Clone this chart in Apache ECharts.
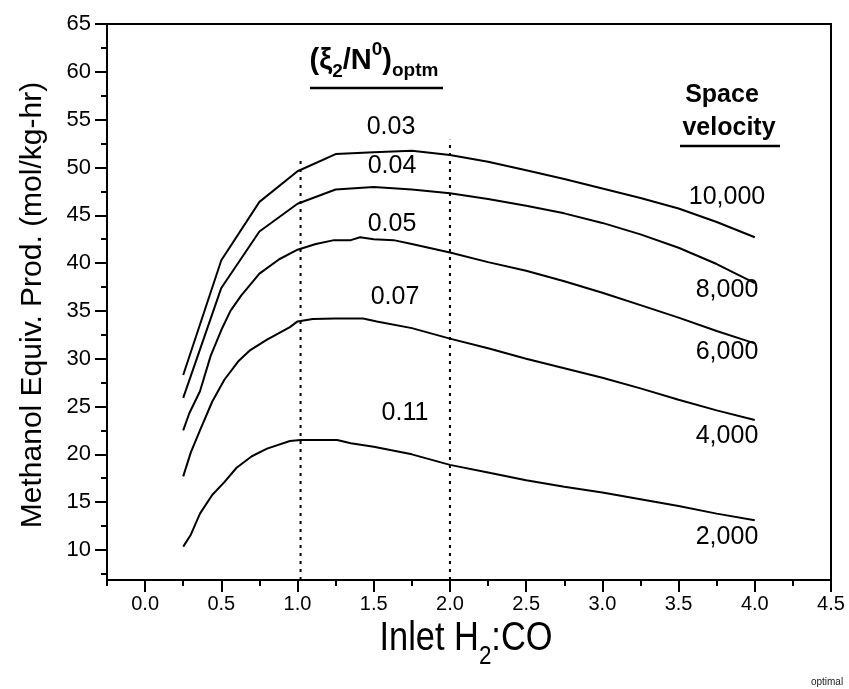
<!DOCTYPE html>
<html>
<head>
<meta charset="utf-8">
<script src="https://cdn.jsdelivr.net/npm/echarts@6/dist/echarts.min.js"></script>
<style>
  html, body { margin: 0; padding: 0; background: #fff; }
  #chart { width: 849px; height: 689px; }
</style>
</head>
<body>
<div id="chart"></div>
<script>
// Methanol equivalent productivity vs inlet H2:CO for five space velocities
const velocityLabels = ['10,000', '8,000', '6,000', '4,000', '2,000'];
const ratioLabels = ['0.03', '0.04', '0.05', '0.07', '0.11'];

const sv10000 = [[0.25, 28.3], [0.5, 40.3], [0.75, 46.4], [1.0, 49.6], [1.25, 51.4], [1.5, 51.6],
  [1.75, 51.75], [2.0, 51.3], [2.25, 50.6], [2.5, 49.7], [2.75, 48.8], [3.0, 47.8], [3.25, 46.8],
  [3.5, 45.7], [3.75, 44.3], [4.0, 42.7]];
const sv8000 = [[0.25, 25.9], [0.5, 37.4], [0.75, 43.3], [1.0, 46.2], [1.25, 47.7], [1.5, 47.95],
  [1.75, 47.7], [2.0, 47.3], [2.25, 46.7], [2.5, 46.0], [2.75, 45.2], [3.0, 44.2], [3.25, 43.0],
  [3.5, 41.6], [3.75, 39.9], [4.0, 37.9]];
const sv6000 = [[0.25, 22.5], [0.29, 24.3], [0.36, 26.6], [0.43, 30.3], [0.5, 33.0], [0.56, 35.0],
  [0.63, 36.6], [0.75, 38.9], [0.88, 40.4], [1.0, 41.4], [1.12, 42.0], [1.24, 42.4], [1.35, 42.4],
  [1.41, 42.7], [1.5, 42.5], [1.63, 42.4], [1.75, 42.0], [2.0, 41.1], [2.25, 40.1], [2.5, 39.2],
  [2.75, 38.1], [3.0, 36.9], [3.25, 35.6], [3.5, 34.3], [3.75, 32.9], [4.0, 31.6]];
const sv4000 = [[0.25, 17.7], [0.3, 20.2], [0.36, 22.5], [0.44, 25.5], [0.52, 27.8], [0.61, 29.7],
  [0.69, 30.9], [0.8, 32.0], [0.95, 33.3], [1.0, 33.9], [1.1, 34.15], [1.25, 34.2], [1.43, 34.2],
  [1.52, 33.9], [1.75, 33.2], [2.0, 32.1], [2.25, 31.1], [2.5, 30.0], [2.75, 29.0], [3.0, 28.0],
  [3.25, 26.9], [3.5, 25.7], [3.75, 24.6], [4.0, 23.6]];
const sv2000 = [[0.25, 10.35], [0.3, 11.6], [0.36, 13.8], [0.44, 15.75], [0.52, 17.1], [0.6, 18.6],
  [0.7, 19.8], [0.8, 20.6], [0.95, 21.4], [1.02, 21.5], [1.26, 21.5], [1.35, 21.15], [1.5, 20.8],
  [1.75, 20.0], [2.0, 18.9], [2.25, 18.1], [2.5, 17.3], [2.75, 16.6], [3.0, 16.0], [3.25, 15.3],
  [3.5, 14.6], [3.75, 13.8], [4.0, 13.1]];

// Optimum band limits (dotted verticals) and where each one stops
const optimumBounds = [1.02, 2.0];
const optimumTops = [51.0, 52.9];

// Axis ticks
const xTicks = [0, 0.5, 1, 1.5, 2, 2.5, 3, 3.5, 4, 4.5];
const xMinorTicks = [-0.25, 0.25, 0.75, 1.25, 1.75, 2.25, 2.75, 3.25, 3.75, 4.25];
const yTicks = [10, 15, 20, 25, 30, 35, 40, 45, 50, 55, 60, 65];
const yMinorTicks = [7.5, 12.5, 17.5, 22.5, 27.5, 32.5, 37.5, 42.5, 47.5, 52.5, 57.5, 62.5];
const xRange = [-0.25, 4.5];
const yRange = [6.86, 65];

const FONT = '"Liberation Sans", Arial, Helvetica, sans-serif';
const measureCtx = document.createElement('canvas').getContext('2d');
function fontStr(size, bold) { return (bold ? 'bold ' : '') + size + 'px ' + FONT; }
function textWidth(t, size, bold) { measureCtx.font = fontStr(size, bold); return measureCtx.measureText(t).width; }

// Lays out a row of text fragments (for sub/superscripts) centred on cx, baseline-relative
function textRun(frags, cx, baseline, sx) {
  sx = sx || 1;
  const widths = frags.map(f => textWidth(f.t, f.size, f.bold) * sx);
  const total = widths.reduce((a, b) => a + b, 0);
  let x = cx - total / 2;
  return frags.map((f, i) => {
    const el = {
      type: 'text', x: x, y: baseline + (f.dy || 0) - 0.32 * f.size, scaleX: sx, silent: true, z: 10,
      style: { text: f.t, font: fontStr(f.size, f.bold), fill: f.color || '#000', align: 'left', verticalAlign: 'middle' }
    };
    x += widths[i];
    return el;
  });
}
function label(t, cx, cy, size, bold, extra) {
  return Object.assign({
    type: 'text', x: cx, y: cy, silent: true, z: 10,
    style: { text: t, font: fontStr(size, bold), fill: '#000', align: 'center', verticalAlign: 'middle' }
  }, extra || {});
}

const chart = echarts.init(document.getElementById('chart'), null, { renderer: 'canvas' });

const blackLine = { color: '#000', width: 2 };
const curves = [sv10000, sv8000, sv6000, sv4000, sv2000].map((d, i) => ({
  type: 'line', name: velocityLabels[i], data: d, symbol: 'none', showSymbol: false,
  lineStyle: { color: '#000', width: 2 }, silent: true, z: 3
}));
const dotted = optimumBounds.map((x, i) => ({
  type: 'line', data: [[x, yRange[0]], [x, optimumTops[i]]], symbol: 'none', showSymbol: false,
  lineStyle: { color: '#000', width: 2, type: [3, 5] }, silent: true, z: 2
}));

// Right-hand velocity labels and ratio labels on the curves
const velocityLabelPos = [[727, 197], [727, 290], [727, 352], [727, 436], [727, 537]];
const ratioLabelPos = [[391, 127], [392, 166], [392, 224], [395, 297], [405, 413]];

const graphics = [];
velocityLabels.forEach((t, i) => graphics.push(label(t, velocityLabelPos[i][0], velocityLabelPos[i][1], 25, false)));
ratioLabels.forEach((t, i) => graphics.push(label(t, ratioLabelPos[i][0], ratioLabelPos[i][1], 25, false)));

// Header over the optimum band: (ξ2/N0)optm
graphics.push(...textRun([
  { t: '(ξ', size: 29, bold: true },
  { t: '2', size: 19, bold: true, dy: 8 },
  { t: '/N', size: 29, bold: true },
  { t: '0', size: 19, bold: true, dy: -14 },
  { t: ')', size: 29, bold: true },
  { t: 'optm', size: 19, bold: true, dy: 7 }
], 374, 70));
graphics.push({ type: 'line', silent: true, z: 10, shape: { x1: 310, y1: 88, x2: 443, y2: 88 }, style: { stroke: '#000', lineWidth: 2.5 } });

// Legend heading
graphics.push(label('Space', 722, 95, 25, true));
graphics.push(label('velocity', 729, 128, 25, true));
graphics.push({ type: 'line', silent: true, z: 10, shape: { x1: 680, y1: 146, x2: 780, y2: 146 }, style: { stroke: '#000', lineWidth: 2.5 } });

// Axis titles
graphics.push(label('Methanol Equiv. Prod. (mol/kg-hr)', 33, 305, 30, false, { rotation: Math.PI / 2 }));
graphics.push(...textRun([
  { t: 'Inlet H', size: 40 },
  { t: '2', size: 26, dy: 13 },
  { t: ':CO', size: 40 }
], 466, 652, 0.86));
graphics.push(label('optimal', 827, 682, 10, false, { style: { text: 'optimal', font: fontStr(10, false), fill: '#222', align: 'center', verticalAlign: 'middle' } }));

const tickFmt = v => v.toFixed(1);
chart.setOption({
  animation: false,
  backgroundColor: '#fff',
  grid: { left: 107, right: 18, top: 24, bottom: 109, show: true, borderColor: '#000', borderWidth: 2, backgroundColor: 'transparent' },
  xAxis: [
    {
      type: 'value', min: xRange[0], max: xRange[1], position: 'bottom',
      axisLine: { show: true, onZero: false, lineStyle: blackLine },
      axisTick: { show: true, customValues: xTicks, length: 12, lineStyle: blackLine },
      axisLabel: { show: true, customValues: xTicks, formatter: tickFmt, margin: 14, fontSize: 20, color: '#000', fontFamily: FONT },
      splitLine: { show: false }
    },
    {
      type: 'value', min: xRange[0], max: xRange[1], position: 'bottom',
      axisLine: { show: false, onZero: false },
      axisTick: { show: true, customValues: xMinorTicks, length: 6, lineStyle: blackLine },
      axisLabel: { show: false },
      splitLine: { show: false }
    }
  ],
  yAxis: [
    {
      type: 'value', min: yRange[0], max: yRange[1], position: 'left',
      axisLine: { show: true, onZero: false, lineStyle: blackLine },
      axisTick: { show: true, customValues: yTicks, length: 12, lineStyle: blackLine },
      axisLabel: { show: true, customValues: yTicks, margin: 16, fontSize: 22, color: '#000', fontFamily: FONT },
      splitLine: { show: false }
    },
    {
      type: 'value', min: yRange[0], max: yRange[1], position: 'left',
      axisLine: { show: false, onZero: false },
      axisTick: { show: true, customValues: yMinorTicks, length: 6, lineStyle: blackLine },
      axisLabel: { show: false },
      splitLine: { show: false }
    }
  ],
  series: curves.concat(dotted),
  graphic: graphics
});
</script>
</body>
</html>
